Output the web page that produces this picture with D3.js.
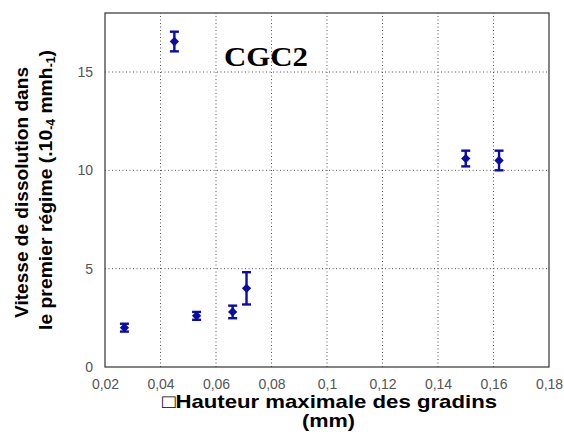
<!DOCTYPE html>
<html>
<head>
<meta charset="utf-8">
<script src="https://cdn.jsdelivr.net/npm/d3@7"></script>
<style>
  html, body { margin: 0; padding: 0; background: #fff; }
  svg { display: block; }
</style>
</head>
<body>
<script>
// Dissolution rate (first regime) versus maximal step height, sample CGC2
const heights = [0.027, 0.045, 0.053, 0.066, 0.071, 0.150, 0.162];
const rates   = [2.0, 16.55, 2.6, 2.8, 4.0, 10.6, 10.5];
const errors  = [0.2, 0.5, 0.2, 0.32, 0.82, 0.4, 0.5];
const xTicks = [0.02, 0.04, 0.06, 0.08, 0.1, 0.12, 0.14, 0.16, 0.18];
const yTicks = [0, 5, 10, 15];
const xTickLabels = ["0,02", "0,04", "0,06", "0,08", "0,1", "0,12", "0,14", "0,16", "0,18"];

const W = 564, H = 437;
const m = { left: 105, right: 15, top: 13, bottom: 70 };

const svg = d3.select("body").append("svg").attr("width", W).attr("height", H);

const x = d3.scaleLinear().domain([0.02, 0.18]).range([m.left, W - m.right]);
const y = d3.scaleLinear().domain([0, 18]).range([H - m.bottom, m.top]);

// dotted grid
const grid = svg.append("g").attr("stroke", "#555").attr("stroke-width", 1).attr("stroke-dasharray", "1,2.5");
grid.selectAll("line.gx").data(xTicks.slice(1, -1)).join("line")
  .attr("x1", d => x(d)).attr("x2", d => x(d))
  .attr("y1", y.range()[0]).attr("y2", y.range()[1]);
grid.selectAll("line.gy").data(yTicks.slice(1)).join("line")
  .attr("x1", x.range()[0]).attr("x2", x.range()[1])
  .attr("y1", d => y(d)).attr("y2", d => y(d));

// frame
svg.append("rect")
  .attr("x", x.range()[0]).attr("y", y.range()[1])
  .attr("width", x.range()[1] - x.range()[0])
  .attr("height", y.range()[0] - y.range()[1])
  .attr("fill", "none").attr("stroke", "#333").attr("stroke-width", 1.2);

// axes
const sans = "Liberation Sans, Arial, sans-serif";
const xAxis = d3.axisBottom(x).tickValues(xTicks)
  .tickFormat((d, i) => xTickLabels[i]).tickSize(0).tickPadding(12);
const gx = svg.append("g").attr("transform", `translate(0,${y.range()[0]})`).call(xAxis);
gx.select(".domain").remove();
gx.selectAll("text").attr("font-family", sans).attr("font-size", 14).attr("fill", "#555");

const yAxis = d3.axisLeft(y).tickValues(yTicks).tickSize(0).tickPadding(12);
const gy = svg.append("g").attr("transform", `translate(${x.range()[0]},0)`).call(yAxis);
gy.select(".domain").remove();
gy.selectAll("text").attr("font-family", sans).attr("font-size", 14).attr("fill", "#555");

// error bars and markers
const blue = "#0b0ba6";
const pts = heights.map((h, i) => ({ h, r: rates[i], e: errors[i] }));
const eb = svg.append("g").attr("stroke", blue).attr("stroke-width", 2.4);
eb.selectAll("line.v").data(pts).join("line")
  .attr("x1", d => x(d.h)).attr("x2", d => x(d.h))
  .attr("y1", d => y(d.r - d.e)).attr("y2", d => y(d.r + d.e));
eb.selectAll("line.t").data(pts).join("line")
  .attr("x1", d => x(d.h) - 4.5).attr("x2", d => x(d.h) + 4.5)
  .attr("y1", d => y(d.r + d.e)).attr("y2", d => y(d.r + d.e));
eb.selectAll("line.b").data(pts).join("line")
  .attr("x1", d => x(d.h) - 4.5).attr("x2", d => x(d.h) + 4.5)
  .attr("y1", d => y(d.r - d.e)).attr("y2", d => y(d.r - d.e));

svg.append("g").selectAll("path").data(pts).join("path")
  .attr("d", d3.symbol(d3.symbolDiamond2, 55))
  .attr("transform", d => `translate(${x(d.h)},${y(d.r)})`)
  .attr("fill", blue);

// sample label
svg.append("text")
  .attr("x", 224).attr("y", 66)
  .attr("font-family", "Liberation Serif, Times New Roman, serif")
  .attr("font-weight", "bold").attr("font-size", 27)
  .attr("textLength", 84).attr("lengthAdjust", "spacingAndGlyphs")
  .text("CGC2");

// axis titles
svg.append("text")
  .attr("x", 162).attr("y", 408)
  .attr("font-family", sans).attr("font-weight", "bold").attr("font-size", 19)
  .attr("textLength", 335).attr("lengthAdjust", "spacingAndGlyphs")
  .text("\u25A1Hauteur maximale des gradins");
svg.append("text")
  .attr("x", 302).attr("y", 427)
  .attr("font-family", sans).attr("font-weight", "bold").attr("font-size", 19)
  .attr("textLength", 53).attr("lengthAdjust", "spacingAndGlyphs")
  .text("(mm)");

const yt = svg.append("g").attr("font-family", sans).attr("font-weight", "bold")
  .attr("font-size", 19);
yt.append("text")
  .attr("transform", "translate(28,318) rotate(-90)")
  .attr("textLength", 251).attr("lengthAdjust", "spacingAndGlyphs")
  .text("Vitesse de dissolution dans");
const l2 = yt.append("text").attr("transform", "translate(52,330) rotate(-90)")
  .attr("textLength", 280).attr("lengthAdjust", "spacingAndGlyphs");
l2.append("tspan").text("le premier régime (.10");
l2.append("tspan").attr("font-size", 12).attr("dy", 3).text("-4");
l2.append("tspan").attr("dy", -3).text(" mmh");
l2.append("tspan").attr("font-size", 12).attr("dy", 3).text("-1");
l2.append("tspan").attr("dy", -3).text(")");
</script>
</body>
</html>
